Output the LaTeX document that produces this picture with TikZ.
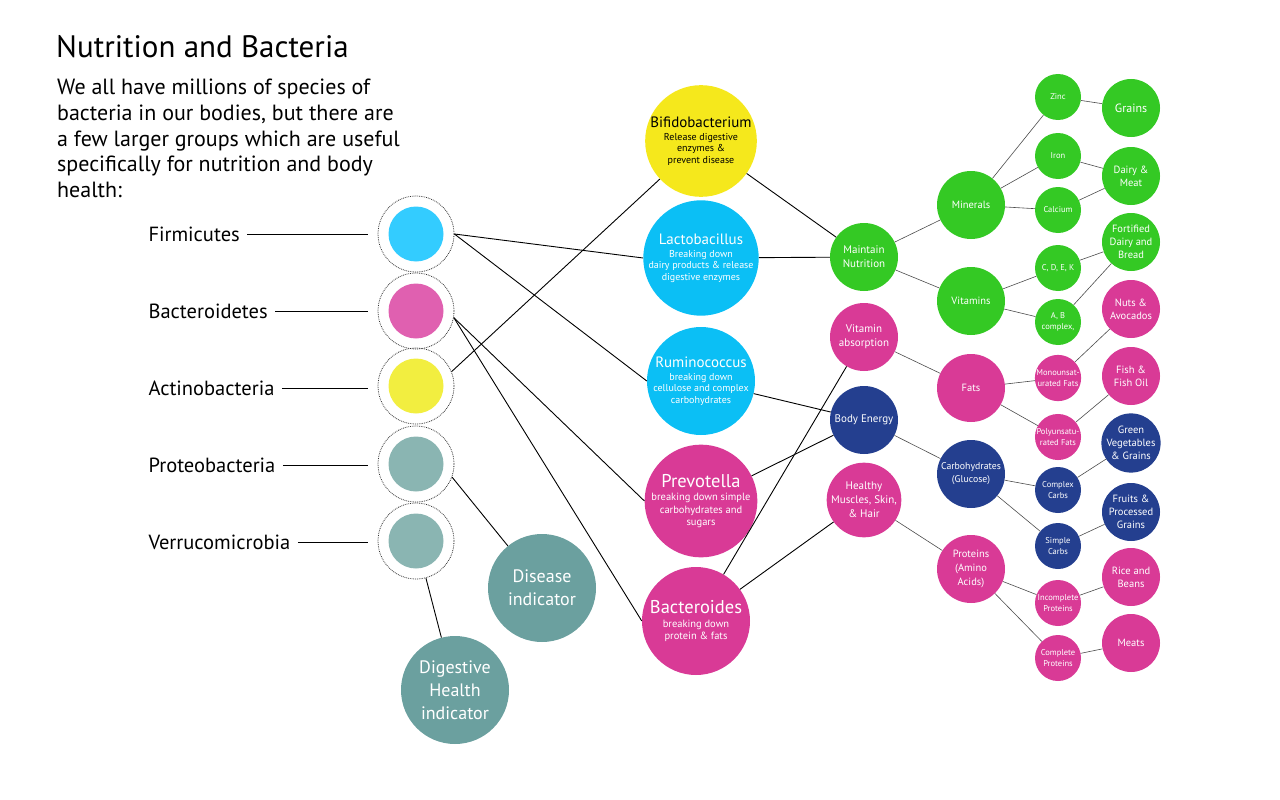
\documentclass[tikz,border=0pt]{standalone}
\usepackage{fontspec}
\setmainfont{PT Sans}
\usepackage{tikz}
\usetikzlibrary{positioning}
\definecolor{bugcyan}{HTML}{0BBFF5}
\definecolor{bugyellow}{HTML}{F5E81C}
\definecolor{bugpink}{HTML}{D93A96}
\definecolor{bugblue}{HTML}{243F8F}
\definecolor{buggreen}{HTML}{34C924}
\definecolor{bugteal}{HTML}{6BA09F}
\definecolor{coreteal}{HTML}{8AB5B2}
\definecolor{corepink}{HTML}{E060B0}
\definecolor{corecyan}{HTML}{33CCFF}
\definecolor{coreyellow}{HTML}{F2EE40}
\tikzset{
    bugring/.style={circle, draw=black!80, densely dotted, line width=0.8pt, minimum size=76pt, inner sep=0pt},
    bugcore/.style={circle, minimum size=55pt, inner sep=0pt},
    groupname/.style={anchor=west, font=\fontsize{20.5}{24}\selectfont},
    bignode/.style={circle, minimum size=108pt, inner sep=0pt, align=center, text=white, font=\fontsize{10}{11.5}\selectfont},
    indnode/.style={circle, fill=bugteal, minimum size=108pt, inner sep=0pt, align=center, text=white, font=\fontsize{18}{23}\selectfont},
    rolenode/.style={circle, minimum size=68pt, inner sep=0pt, align=center, text=white, font=\fontsize{11}{14}\selectfont},
    nutrnode/.style={circle, minimum size=68pt, inner sep=0pt, align=center, text=white, font=\fontsize{10.5}{14}\selectfont},
    kindnode/.style={circle, minimum size=46pt, inner sep=0pt, align=center, text=white, font=\fontsize{8.5}{10.5}\selectfont},
    foodnode/.style={circle, minimum size=58pt, inner sep=0pt, align=center, text=white, font=\fontsize{10.5}{13}\selectfont},
    bugarrow/.style={draw=black, line width=0.9pt},
    foodarrow/.style={draw=black!70, line width=0.6pt}
}
\newcommand{\bugname}[2][15]{{\fontsize{#1}{18}\selectfont #2}}

\begin{document}
\begin{tikzpicture}[x=1pt, y=-1pt]
    \useasboundingbox (0,0) rectangle (1280,800);
    % heading
    \node[anchor=north west, inner sep=0pt, font=\fontsize{31}{34}\selectfont] (title) at (56,35) {Nutrition and Bacteria};
    \node[anchor=north west, inner sep=0pt, align=left, font=\fontsize{22}{25.7}\selectfont] (intro) at (57,79)
        {We all have millions of species of\\bacteria in our bodies, but there are\\a few larger groups which are useful\\specifically for nutrition and body\\health:};

    % bacteria groups
    \node[bugring] (firm) at (416,234) {};
    \node[bugring] (bact) at (416,311) {};
    \node[bugring] (acti) at (416,386) {};
    \node[bugring] (prot) at (416,464) {};
    \node[bugring] (verr) at (416,541) {};
    \node[bugcore, fill=corecyan] (firmcore) at (firm) {};
    \node[bugcore, fill=corepink] (bactcore) at (bact) {};
    \node[bugcore, fill=coreyellow] (acticore) at (acti) {};
    \node[bugcore, fill=coreteal] (protcore) at (prot) {};
    \node[bugcore, fill=coreteal] (verrcore) at (verr) {};
    \node[groupname] (firmname) at (145,234) {Firmicutes};
    \node[groupname] (bactname) at (145,311) {Bacteroidetes};
    \node[groupname] (actiname) at (145,388) {Actinobacteria};
    \node[groupname] (protname) at (145,465) {Proteobacteria};
    \node[groupname] (verrname) at (145,542) {Verrucomicrobia};
    \foreach \g in {firm,bact,acti,prot,verr}
        \draw[bugarrow, shorten >=10pt, shorten <=4pt] (\g name.east) -- (\g.west |- \g name.east);

    % indicators
    \node[indnode] (disease) at (542,588) {Disease\\indicator};
    \node[indnode] (digest) at (455,690) {Digestive\\Health\\indicator};

    % bacteria
    \node[bignode, fill=bugyellow, text=black] (bifido) at (701,141) {\bugname{Bifidobacterium}\\[1pt]Release digestive\\enzymes \&\\prevent disease};
    \node[bignode, fill=bugcyan] (lacto) at (701,258) {\bugname{Lactobacillus}\\[1pt]Breaking down\\dairy products \& release\\digestive enzymes};
    \node[bignode, fill=bugcyan] (rumino) at (701,381) {\bugname{Ruminococcus}\\[1pt]breaking down\\cellulose and complex\\carbohydrates};
    \node[bignode, fill=bugpink, font=\fontsize{10.5}{12.5}\selectfont] (prevo) at (701,501) {\bugname[18.5]{Prevotella}\\[1pt]breaking down simple\\carbohydrates and\\sugars};
    \node[bignode, fill=bugpink, font=\fontsize{10.5}{12.5}\selectfont] (bacteroides) at (696,621) {\bugname[18.5]{Bacteroides}\\[1pt]breaking down\\protein \& fats};

    % roles
    \node[rolenode, fill=buggreen] (maintain) at (864,257) {Maintain\\Nutrition};
    \node[rolenode, fill=bugpink] (vitabs) at (864,337) {Vitamin\\absorption};
    \node[rolenode, fill=bugblue] (energy) at (864,420) {Body Energy};
    \node[rolenode, fill=bugpink] (muscles) at (864,500) {Healthy\\Muscles, Skin,\\\& Hair};

    % nutrients
    \node[nutrnode, fill=buggreen] (minerals) at (971,205) {Minerals};
    \node[nutrnode, fill=buggreen] (vitamins) at (971,301) {Vitamins};
    \node[nutrnode, fill=bugpink] (fats) at (971,388) {Fats};
    \node[nutrnode, fill=bugblue, font=\fontsize{9.8}{13}\selectfont] (carbs) at (971,474) {Carbohydrates\\(Glucose)};
    \node[nutrnode, fill=bugpink] (proteins) at (971,569) {Proteins\\(Amino\\Acids)};

    % kinds
    \node[kindnode, fill=buggreen] (zinc) at (1058,97) {Zinc};
    \node[kindnode, fill=buggreen] (iron) at (1058,156) {Iron};
    \node[kindnode, fill=buggreen] (calcium) at (1058,210) {Calcium};
    \node[kindnode, fill=buggreen] (cdek) at (1058,268) {C, D, E, K};
    \node[kindnode, fill=buggreen] (abcomp) at (1058,322) {A, B\\complex,};
    \node[kindnode, fill=bugpink] (mono) at (1058,378) {Monounsat-\\urated Fats};
    \node[kindnode, fill=bugpink] (poly) at (1058,437) {Polyunsatu-\\rated Fats};
    \node[kindnode, fill=bugblue] (complex) at (1058,490) {Complex\\Carbs};
    \node[kindnode, fill=bugblue] (simple) at (1058,546) {Simple\\Carbs};
    \node[kindnode, fill=bugpink] (incomplete) at (1058,603) {Incomplete\\Proteins};
    \node[kindnode, fill=bugpink] (complete) at (1058,658) {Complete\\Proteins};

    % foods
    \node[foodnode, fill=buggreen, font=\fontsize{12}{14}\selectfont] (grains) at (1131,108) {Grains};
    \node[foodnode, fill=buggreen] (dairymeat) at (1131,176) {Dairy \&\\Meat};
    \node[foodnode, fill=buggreen] (fortified) at (1131,242) {Fortified\\Dairy and\\Bread};
    \node[foodnode, fill=bugpink] (nuts) at (1131,309) {Nuts \&\\Avocados};
    \node[foodnode, fill=bugpink] (fish) at (1131,376) {Fish \&\\Fish Oil};
    \node[foodnode, fill=bugblue] (greens) at (1131,443) {Green\\Vegetables\\\& Grains};
    \node[foodnode, fill=bugblue] (fruits) at (1131,512) {Fruits \&\\Processed\\Grains};
    \node[foodnode, fill=bugpink] (rice) at (1131,577) {Rice and\\Beans};
    \node[foodnode, fill=bugpink] (meats) at (1131,643) {Meats};

    % groups to bacteria
    \draw[bugarrow] (firm.east) -- (lacto.west);
    \draw[bugarrow] (firm.east) -- (rumino.west);
    \draw[bugarrow] (bact.-10) -- (prevo.west);
    \draw[bugarrow] (bact.-10) -- (bacteroides.west);
    \draw[bugarrow] (acti.22) -- (bifido);
    \draw[bugarrow] (prot.-20) -- (disease);
    \draw[bugarrow] (verr.-75) -- (digest);

    % bacteria to roles
    \draw[bugarrow] (bifido) -- (maintain);
    \draw[bugarrow] (lacto) -- (maintain);
    \draw[bugarrow] (rumino) -- (energy);
    \draw[bugarrow] (prevo) -- (energy);
    \draw[bugarrow] (bacteroides) -- (vitabs);
    \draw[bugarrow] (bacteroides) -- (muscles);

    % roles to nutrients
    \draw[foodarrow] (maintain) -- (minerals);
    \draw[foodarrow] (maintain) -- (vitamins);
    \draw[foodarrow] (vitabs) -- (fats);
    \draw[foodarrow] (energy) -- (carbs);
    \draw[foodarrow] (muscles) -- (proteins);

    % nutrients to kinds
    \draw[foodarrow] (minerals) -- (zinc);
    \draw[foodarrow] (minerals) -- (iron);
    \draw[foodarrow] (minerals) -- (calcium);
    \draw[foodarrow] (vitamins) -- (cdek);
    \draw[foodarrow] (vitamins) -- (abcomp);
    \draw[foodarrow] (fats) -- (mono);
    \draw[foodarrow] (fats) -- (poly);
    \draw[foodarrow] (carbs) -- (complex);
    \draw[foodarrow] (carbs) -- (simple);
    \draw[foodarrow] (proteins) -- (incomplete);
    \draw[foodarrow] (proteins) -- (complete);

    % kinds to foods
    \draw[foodarrow] (zinc) -- (grains);
    \draw[foodarrow] (iron) -- (dairymeat);
    \draw[foodarrow] (calcium) -- (dairymeat);
    \draw[foodarrow] (cdek) -- (fortified);
    \draw[foodarrow] (abcomp) -- (fortified);
    \draw[foodarrow] (mono) -- (nuts);
    \draw[foodarrow] (poly) -- (fish);
    \draw[foodarrow] (complex) -- (greens);
    \draw[foodarrow] (simple) -- (fruits);
    \draw[foodarrow] (incomplete) -- (rice);
    \draw[foodarrow] (complete) -- (meats);
\end{tikzpicture}
\end{document}
